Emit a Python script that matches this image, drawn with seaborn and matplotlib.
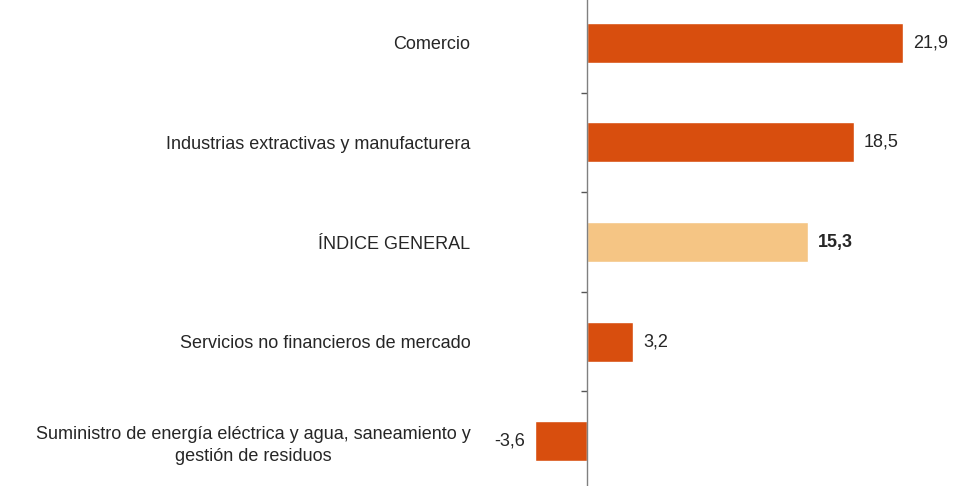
import matplotlib
matplotlib.use('Agg')
import matplotlib.pyplot as plt
import seaborn as sns
from matplotlib.ticker import FixedLocator

categories = ['Comercio',
              'Industrias extractivas y manufacturera',
              'ÍNDICE GENERAL',
              'Servicios no financieros de mercado',
              'Suministro de energía eléctrica y agua, saneamiento y\ngestión de residuos']
values = [21.9, 18.5, 15.3, 3.2, -3.6]
colors = ['#D84E0E', '#D84E0E', '#F5C584', '#D84E0E', '#D84E0E']

sns.set_style('white')
plt.rcParams['font.family'] = ['Liberation Sans', 'DejaVu Sans']
text_col = '#262626'

fig = plt.figure(figsize=(9.8, 4.86), dpi=100)
ax = fig.add_axes([500 / 980, 0, 480 / 980, 1])

sns.barplot(x=values, y=categories, hue=categories, palette=colors,
            orient='h', width=0.4, legend=False, ax=ax, saturation=1)

ax.set_xlim(-6.03, 27.23)
ax.set_ylim(4.45, -0.43)
ax.set_xlabel('')
ax.set_ylabel('')
ax.set_xticks([])

for s in ['top', 'right', 'bottom']:
    ax.spines[s].set_visible(False)
ax.spines['left'].set_position(('data', 0))
ax.spines['left'].set_color('#808080')
ax.spines['left'].set_linewidth(1)

ax.set_yticks(range(len(categories)))
ax.set_yticklabels(categories)
ax.tick_params(axis='y', which='major', length=0, pad=84, labelsize=13, labelcolor=text_col)
ax.yaxis.set_minor_locator(FixedLocator([0.5, 1.5, 2.5, 3.5]))
ax.tick_params(axis='y', which='minor', length=4, width=1, color='#555555', direction='out', left=True)
for lab in ax.get_yticklabels():
    lab.set_multialignment('center')
    lab.set_linespacing(1.35)

for cont in ax.containers:
    labs = [f'{v:.1f}'.replace('.', ',') for v in cont.datavalues]
    txt = ax.bar_label(cont, labels=labs, padding=7, fontsize=13, color=text_col)
    for t, v in zip(txt, cont.datavalues):
        if v == values[2]:
            t.set_fontweight('bold')

fig.savefig('out.png', dpi=100)
